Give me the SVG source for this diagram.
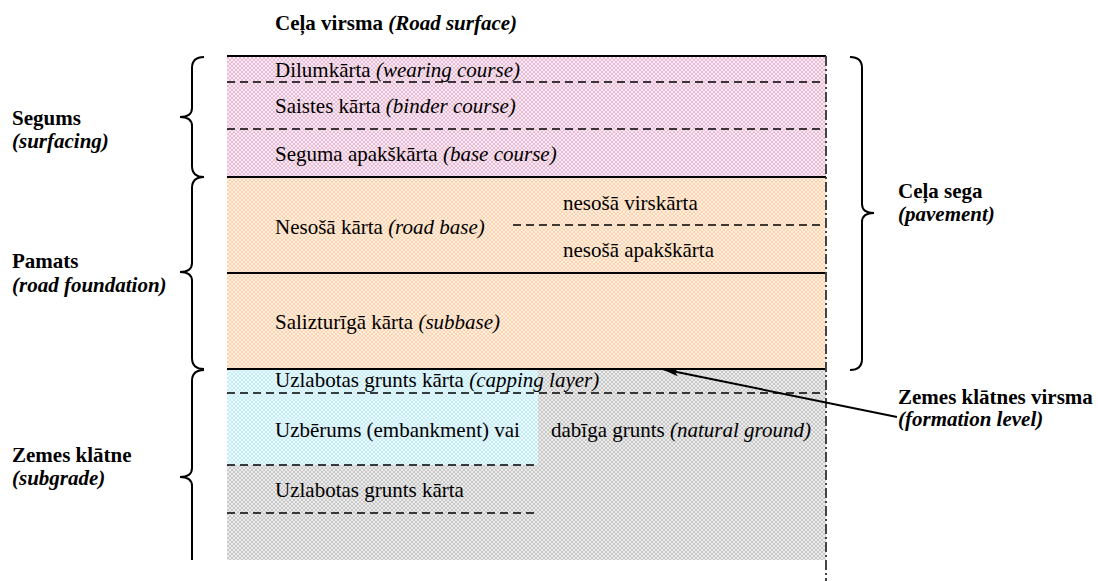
<svg xmlns="http://www.w3.org/2000/svg" width="1098" height="581" viewBox="0 0 1098 581">
<style>
text{font-family:"Liberation Serif","Times New Roman",serif;font-size:21px;fill:#000}
.b{font-weight:bold}
.i{font-style:italic}
.solid{stroke:#000;stroke-width:2;fill:none}
.dash{stroke:#000;stroke-width:1.6;stroke-dasharray:8 5;fill:none}
.brace{stroke:#000;stroke-width:2;fill:none}
</style>
<defs>
<pattern id="pPink" width="4" height="4" patternUnits="userSpaceOnUse"><rect width="4" height="4" fill="#eabcd5"/><path d="M0,0L4,4M4,0L0,4" stroke="#fbeef5" stroke-width="0.9"/></pattern>
<pattern id="pOrange" width="4" height="4" patternUnits="userSpaceOnUse"><rect width="4" height="4" fill="#fcd3ae"/><path d="M0,0L4,4M4,0L0,4" stroke="#fff3e8" stroke-width="0.9"/></pattern>
<pattern id="pBlue" width="4" height="4" patternUnits="userSpaceOnUse"><rect width="4" height="4" fill="#c3edf9"/><path d="M0,0L4,4M4,0L0,4" stroke="#f0fbfe" stroke-width="0.9"/></pattern>
<pattern id="pGrey" width="4" height="4" patternUnits="userSpaceOnUse"><rect width="4" height="4" fill="#c8c8c8"/><path d="M0,0L4,4M4,0L0,4" stroke="#f0f0f0" stroke-width="0.9"/></pattern>
<marker id="arr" markerWidth="18" markerHeight="8" refX="17" refY="4" orient="auto" markerUnits="userSpaceOnUse"><path d="M0,0L18,4L0,8L4,4Z" fill="#000"/></marker>
</defs>

<text class="b" x="275" y="30">Ceļa virsma <tspan class="i">(Road surface)</tspan></text>

<g id="surfacing">
<rect x="227" y="56" width="599" height="121" fill="url(#pPink)"/>
<line class="solid" x1="227" y1="56" x2="826" y2="56"/>
<line class="dash" x1="227" y1="82" x2="826" y2="82"/>
<line class="dash" x1="227" y1="129" x2="826" y2="129"/>
<text x="275" y="77">Dilumkārta <tspan class="i">(wearing course)</tspan></text>
<text x="275" y="113">Saistes kārta <tspan class="i">(binder course)</tspan></text>
<text x="275" y="161">Seguma apakškārta <tspan class="i">(base course)</tspan></text>
</g>

<g id="foundation">
<rect x="227" y="177" width="599" height="192" fill="url(#pOrange)"/>
<line class="solid" x1="227" y1="177" x2="826" y2="177"/>
<line class="dash" x1="513" y1="225" x2="826" y2="225"/>
<line class="solid" x1="227" y1="273" x2="826" y2="273"/>
<text x="275" y="234">Nesošā kārta <tspan class="i">(road base)</tspan></text>
<text x="563" y="210">nesošā virskārta</text>
<text x="563" y="257">nesošā apakškārta</text>
<text x="275" y="329">Salizturīgā kārta <tspan class="i">(subbase)</tspan></text>
</g>

<g id="subgrade">
<rect x="227" y="370" width="599" height="190" fill="url(#pGrey)"/>
<rect x="227" y="370" width="311" height="95" fill="url(#pBlue)"/>
<line class="solid" x1="227" y1="369" x2="826" y2="369"/>
<line class="dash" x1="227" y1="393" x2="826" y2="393"/>
<line class="dash" x1="227" y1="465" x2="538" y2="465"/>
<line class="dash" x1="227" y1="513" x2="538" y2="513"/>
<text x="275" y="387">Uzlabotas grunts kārta <tspan class="i">(capping layer)</tspan></text>
<text x="275" y="437">Uzbērums (embankment) vai</text>
<text x="551" y="437">dabīga grunts <tspan class="i">(natural ground)</tspan></text>
<text x="275" y="497">Uzlabotas grunts kārta</text>
</g>

<g id="axis">
<line x1="826" y1="56" x2="826" y2="581" stroke="#444" stroke-width="2" stroke-dasharray="10 3 2 3"/>
</g>

<g id="brace-segums">
<path class="brace" d="M204,57 Q192,57 192,68 L192,108 Q192,117 180,117 Q192,117 192,126 L192,166 Q192,177 204,177"/>
<text class="b" x="12" y="125">Segums</text>
<text class="b i" x="12" y="148">(surfacing)</text>
</g>

<g id="brace-pamats">
<path class="brace" d="M204,177 Q192,177 192,188 L192,263 Q192,272 180,272 Q192,272 192,281 L192,358 Q192,369 204,369"/>
<text class="b" x="12" y="268">Pamats</text>
<text class="b i" x="12" y="292">(road foundation)</text>
</g>

<g id="brace-subgrade">
<path class="brace" d="M204,370 Q192,370 192,381 L192,468 Q192,477 180,477 Q192,477 192,486 L192,560"/>
<text class="b" x="12" y="462">Zemes klātne</text>
<text class="b i" x="12" y="485">(subgrade)</text>
</g>

<g id="brace-pavement">
<path class="brace" d="M850,57 Q862,57 862,68 L862,204 Q862,213 874,213 Q862,213 862,222 L862,359 Q862,370 850,370"/>
<text class="b" x="898" y="198">Ceļa sega</text>
<text class="b i" x="898" y="221">(pavement)</text>
</g>

<g id="formation-label">
<text class="b" x="898" y="404">Zemes klātnes virsma</text>
<text class="b i" x="898" y="426">(formation level)</text>
</g>

<g id="connectors">
<line x1="897" y1="417" x2="662" y2="369" stroke="#000" stroke-width="2" marker-end="url(#arr)"/>
</g>
</svg>
